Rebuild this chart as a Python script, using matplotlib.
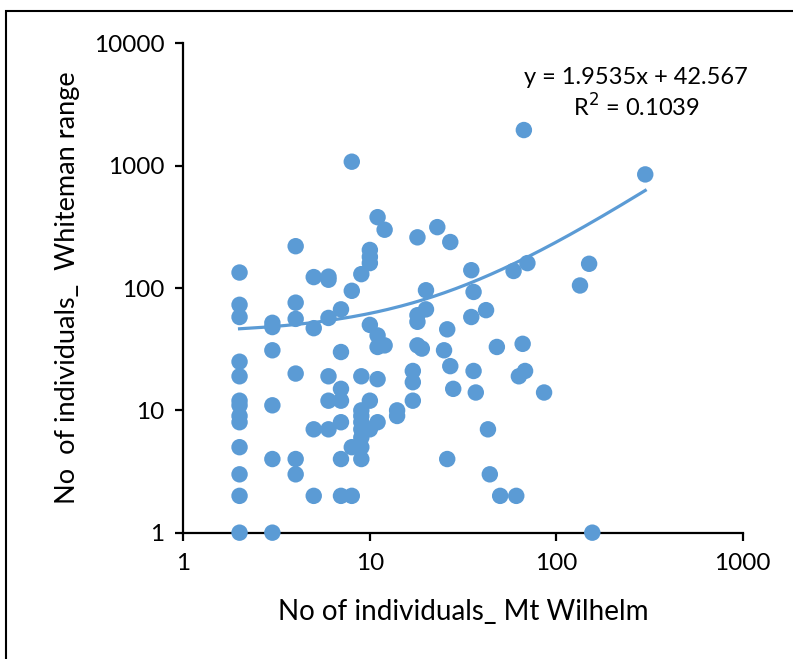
import numpy as np
import matplotlib
matplotlib.use("Agg")
import matplotlib.pyplot as plt
from matplotlib.ticker import FixedLocator, FixedFormatter, NullLocator
from matplotlib.patches import Rectangle

# No of individuals at Mt Wilhelm (x) vs Whiteman range (y)
x_wilhelm = [2, 2, 2, 2, 2, 2, 2, 2, 2, 2, 2, 2, 2,
             3, 3, 3, 3, 3, 3,
             4, 4, 4, 4, 4, 4,
             5, 5, 5, 5,
             6, 6, 6, 6, 6, 6,
             7, 7, 7, 7, 7, 7, 7,
             8, 8, 8, 8,
             9, 9, 9, 9, 9, 9, 9, 9, 9,
             10, 10, 10, 10, 10, 10,
             11, 11, 11, 11, 11,
             12, 12,
             14, 14,
             17, 17, 17,
             18, 18, 18, 18,
             19, 20, 20, 23, 25, 26, 26, 27, 27, 28,
             35, 35, 36, 36, 37, 42, 43, 44, 48, 50,
             59, 61, 63, 66, 67, 68, 70, 86, 134, 150, 156, 300]
y_whiteman = [134, 73, 58, 25, 19, 12, 11, 9, 8, 5, 3, 2, 1,
              52, 48, 31, 11, 4, 1,
              220, 76, 56, 20, 4, 3,
              123, 47, 7, 2,
              124, 117, 57, 19, 12, 7,
              67, 30, 15, 12, 8, 4, 2,
              1080, 95, 5, 2,
              130, 19, 10, 9, 8, 7, 6, 5, 4,
              205, 180, 160, 50, 12, 7,
              380, 41, 33, 18, 8,
              300, 34,
              10, 9,
              21, 17, 12,
              260, 60, 53, 34,
              32, 96, 67, 315, 31, 46, 4, 238, 23, 15,
              140, 58, 93, 21, 14, 66, 7, 3, 33, 2,
              138, 2, 19, 35, 1960, 21, 160, 14, 105, 158, 1, 850]

# Excel linear trendline shown on the chart
slope = 1.9535
intercept = 42.567
r_squared = 0.1039

x_ticks = [1, 10, 100, 1000]
y_ticks = [1, 10, 100, 1000, 10000]

blue = "#5B9BD5"
font = ["Lato", "DejaVu Sans"]
plt.rcParams["font.family"] = font

fig = plt.figure(figsize=(7.93, 6.59), dpi=100)
ax = fig.add_axes([0.2313, 0.1917, 0.7053, 0.7423])

ax.scatter(x_wilhelm, y_whiteman, s=140, color=blue, edgecolors="none",
           zorder=3, clip_on=False)

xt = np.linspace(min(x_wilhelm), max(x_wilhelm), 400)
ax.plot(xt, slope * xt + intercept, color=blue, lw=2.3, zorder=2)

ax.set_xscale("log")
ax.set_yscale("log")
ax.set_xlim(1, 1000)
ax.set_ylim(1, 10000)

ax.xaxis.set_major_locator(FixedLocator(x_ticks))
ax.xaxis.set_major_formatter(FixedFormatter([str(v) for v in x_ticks]))
ax.yaxis.set_major_locator(FixedLocator(y_ticks))
ax.yaxis.set_major_formatter(FixedFormatter([str(v) for v in y_ticks]))
ax.xaxis.set_minor_locator(NullLocator())
ax.yaxis.set_minor_locator(NullLocator())

for s in ["top", "right"]:
    ax.spines[s].set_visible(False)
for s in ["left", "bottom"]:
    ax.spines[s].set_linewidth(1.6)
    ax.spines[s].set_color("black")

ax.tick_params(axis="both", which="major", direction="out", length=5.5,
               width=1.6, labelsize=17.5, colors="black")
ax.tick_params(axis="x", pad=9)
ax.tick_params(axis="y", pad=8)

ax.set_xlabel("No of individuals_ Mt Wilhelm", fontsize=20, labelpad=18)
ax.set_ylabel("No  of individuals_  Whiteman range", fontsize=19.5, labelpad=10)

fig.text(636 / 793, 1 - 77 / 659, "y = %.4fx + %.3f" % (slope, intercept),
         ha="center", va="center", fontsize=17)
fig.text(636 / 793, 1 - 107 / 659, "R$^2$ = %.4f" % r_squared,
         ha="center", va="center", fontsize=17)

fig.patches.append(Rectangle((6 / 793, -0.1), 1.2, 1 - 11 / 659 + 0.1,
                             transform=fig.transFigure, fill=False,
                             edgecolor="black", lw=1.5))

fig.savefig("out.png", dpi=100)
